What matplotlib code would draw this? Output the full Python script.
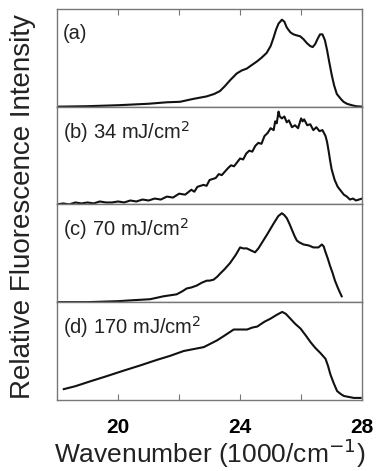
import numpy as np
import matplotlib
matplotlib.use("Agg")
import matplotlib.pyplot as plt

plt.rcParams['font.family'] = ['Liberation Sans', 'DejaVu Sans']

# %% data (fraction of panel height)
wn_a = [18.0, 19.0, 20.0, 21.0, 21.6, 22.03, 22.47, 22.9, 23.15, 23.34, 23.5, 23.67, 23.89, 24.05,
        24.22, 24.4, 24.54, 24.7, 24.87, 25.0, 25.09, 25.18, 25.26, 25.37, 25.45, 25.53, 25.65,
        25.75, 25.85, 25.97, 26.08, 26.19, 26.3, 26.38, 26.46, 26.55, 26.62, 26.7, 26.78, 26.85,
        26.92, 27.0, 27.08, 27.17, 27.3, 27.39, 27.5, 27.66, 27.8, 28.0]
int_a = [0.0, 0.005, 0.015, 0.03, 0.045, 0.05, 0.08, 0.105, 0.13, 0.16, 0.21, 0.27, 0.34, 0.37,
         0.39, 0.43, 0.46, 0.5, 0.55, 0.62, 0.7, 0.79, 0.85, 0.89, 0.87, 0.81, 0.76,
         0.74, 0.73, 0.72, 0.69, 0.65, 0.62, 0.61, 0.64, 0.7, 0.74, 0.74, 0.68, 0.58,
         0.46, 0.33, 0.22, 0.13, 0.08, 0.05, 0.03, 0.015, 0.005, 0.0]

wn_b = [18.0, 18.2, 18.4, 18.6, 18.8, 19.0, 19.2, 19.4, 19.6, 19.8, 20.0, 20.2, 20.4, 20.6, 20.8,
        21.0, 21.2, 21.4, 21.6, 21.8, 22.0, 22.2, 22.4, 22.5, 22.6, 22.8, 22.9, 23.0, 23.2, 23.3,
        23.4, 23.6, 23.7, 23.8, 24.0, 24.1, 24.2, 24.3, 24.4, 24.5, 24.6, 24.7, 24.8, 24.9, 25.0,
        25.1, 25.15, 25.2, 25.26, 25.3, 25.37, 25.45, 25.53, 25.6, 25.7, 25.8, 25.9, 26.0, 26.05,
        26.1, 26.2, 26.3, 26.4, 26.5, 26.6, 26.7, 26.8, 26.85, 26.9, 26.95, 27.0, 27.1, 27.2,
        27.3, 27.4, 27.5, 27.6, 27.7, 27.8, 27.9, 28.0]
int_b = [0.0, 0.01, 0.0, 0.02, 0.01, 0.02, 0.01, 0.03, 0.02, 0.02, 0.03, 0.02, 0.04, 0.03, 0.05,
         0.04, 0.06, 0.05, 0.08, 0.07, 0.11, 0.1, 0.15, 0.13, 0.18, 0.2, 0.19, 0.25, 0.27, 0.31,
         0.3, 0.37, 0.4, 0.39, 0.47, 0.46, 0.52, 0.55, 0.54, 0.6, 0.63, 0.62, 0.7, 0.73, 0.78,
         0.76, 0.85, 0.83, 0.95, 0.9, 0.88, 0.9, 0.84, 0.86, 0.79, 0.81, 0.78, 0.88, 0.85,
         0.87, 0.81, 0.82, 0.76, 0.79, 0.75, 0.76, 0.7, 0.64, 0.55, 0.45, 0.36, 0.25, 0.18,
         0.14, 0.1, 0.08, 0.05, 0.06, 0.04, 0.05, 0.06]

wn_c = [18.0, 18.5, 19.0, 19.5, 20.0, 20.5, 21.05, 21.49, 21.92, 22.1, 22.25, 22.4, 22.58, 22.75,
        22.91, 23.0, 23.13, 23.25, 23.34, 23.5, 23.67, 23.85, 24.0, 24.1, 24.22, 24.35, 24.49,
        24.6, 24.76, 24.9, 25.09, 25.25, 25.37, 25.45, 25.53, 25.62, 25.7, 25.78, 25.86, 25.95,
        26.08, 26.25, 26.4, 26.57, 26.68, 26.74, 26.79, 26.87, 26.95, 27.03, 27.11, 27.2, 27.27,
        27.33]
int_c = [0.0, 0.0, 0.0, 0.005, 0.01, 0.02, 0.03, 0.06, 0.08, 0.11, 0.14, 0.15, 0.17, 0.2,
         0.22, 0.22, 0.23, 0.26, 0.29, 0.34, 0.4, 0.48, 0.56, 0.55, 0.55, 0.53, 0.51,
         0.55, 0.63, 0.7, 0.8, 0.88, 0.91, 0.89, 0.86, 0.8, 0.74, 0.68, 0.63, 0.61,
         0.59, 0.58, 0.56, 0.56, 0.59, 0.57, 0.52, 0.45, 0.37, 0.3, 0.22, 0.15, 0.1,
         0.06]

wn_d = [18.22, 18.6, 19.09, 19.6, 20.19, 20.7, 21.28, 21.7, 22.15, 22.48, 22.81, 23.0, 23.25,
        23.5, 23.79, 24.0, 24.23, 24.4, 24.56, 24.8, 24.99, 25.2, 25.38, 25.5, 25.65, 25.8,
        25.98, 26.15, 26.31, 26.47, 26.63, 26.8, 26.88, 26.96, 27.07, 27.18, 27.3, 27.4, 27.73,
        27.95]
int_d = [0.11, 0.14, 0.19, 0.24, 0.3, 0.35, 0.41, 0.45, 0.5, 0.52, 0.54, 0.57, 0.61,
         0.66, 0.72, 0.72, 0.72, 0.74, 0.75, 0.8, 0.83, 0.87, 0.9, 0.88, 0.83, 0.78,
         0.73, 0.66, 0.59, 0.53, 0.48, 0.42, 0.35, 0.26, 0.17, 0.09, 0.06, 0.04, 0.02,
         0.02]

labels = ['(a)', '(b) 34 mJ/cm$^2$', '(c) 70 mJ/cm$^2$', '(d) 170 mJ/cm$^2$']
tick_pos = [20, 22, 24, 26, 28]
tick_lab = ['20', '', '24', '', '28']

# %%
fig, axes = plt.subplots(4, 1, sharex=True, figsize=(3.78, 4.71), dpi=100)
fig.subplots_adjust(left=0.151, right=0.958, top=0.981, bottom=0.151, hspace=0)

series = [(wn_a, int_a), (wn_b, int_b), (wn_c, int_c), (wn_d, int_d)]
for ax, (x, y), lab in zip(axes, series, labels):
    ax.plot(x, y, color='#111111', lw=1.5)
    ax.set_xlim(18, 28)
    ax.set_ylim(0, 1)
    ax.set_yticks([])
    for s in ax.spines.values():
        s.set_color('#777777')
        s.set_linewidth(1.0)
    ax.text(0.02, 0.745, lab, transform=ax.transAxes, fontsize=14.5,
            va='center', ha='left', color='#222222')
    ax.tick_params(axis='x', which='both', length=0)

axes[0].tick_params(axis='x', top=True, bottom=False, direction='in', length=4, color='#777777')
axes[-1].set_xticks(tick_pos)
axes[-1].set_xticklabels(tick_lab)
axes[-1].tick_params(axis='x', bottom=True, direction='in', length=4, color='#777777',
                     labelsize=15, pad=13)
for t in axes[-1].get_xticklabels():
    t.set_fontweight('bold')
axes[-1].set_xlabel('Wavenumber (1000/cm$^{-1}$)', fontsize=19, labelpad=0, color='#222222')

fig.text(0.062, 0.562, 'Relative Fluorescence Intensity', rotation=90, fontsize=20,
         va='center', ha='center', color='#222222')

plt.savefig('out.png', dpi=100)
